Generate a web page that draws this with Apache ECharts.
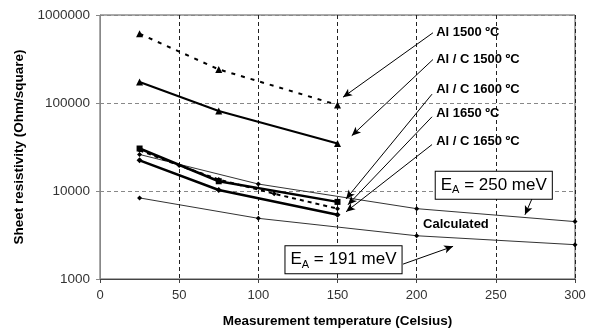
<!DOCTYPE html>
<html>
<head>
<meta charset="utf-8">
<script src="https://cdn.jsdelivr.net/npm/echarts@6/dist/echarts.min.js"></script>
<style>
  html, body { margin: 0; padding: 0; background: #fff; }
  #chart { width: 598px; height: 333px; }
</style>
</head>
<body>
<div id="chart"></div>
<script>
// measured data, [temperature C, ohm/sq]
const al1500 = [[25, 612000], [75, 241000], [150, 95000]];
const alc1500 = [[25, 173000], [75, 81000], [150, 34600]];
const alc1600 = [[25, 30400], [75, 12900], [150, 7520]];
const al1650 = [[25, 29000], [50, 19500], [75, 13500], [110, 9300], [150, 6300]];
const alc1650 = [[25, 22300], [75, 10260], [150, 5370]];
// calculated curves
const calc250 = [[25, 26000], [100, 12000], [200, 6300], [300, 4490]];
const calc191 = [[25, 8340], [100, 4890], [200, 3100], [300, 2455]];

const xTicks = [0, 50, 100, 150, 200, 250, 300];
const yTicks = [1000, 10000, 100000, 1000000];

// label text, anchor point (data space)
const seriesLabels = [
  ['Al 1500 ºC', 212, 628000],
  ['Al / C 1500 ºC', 212, 312000],
  ['Al / C 1600 ºC', 212, 143600],
  ['Al 1650 ºC', 212, 75200],
  ['Al / C 1650 ºC', 212, 36500]
];
// leader arrows: [from, to]
const arrows = [
  [[210.3, 628000], [153.5, 116600]],
  [[210.3, 312000], [159, 42500]],
  [[209.7, 126000], [155.4, 8130]],
  [[209.7, 69700], [156.6, 6970]],
  [[209.7, 33700], [155.4, 5810]],
  [[272.8, 8130], [268.4, 5370]],
  [[191.4, 1476], [223, 2350]]
];

const chart = echarts.init(document.getElementById('chart'));
const font = '"Liberation Sans", Arial, sans-serif';

function lineSeries(name, data, opts) {
  return Object.assign({
    name: name,
    type: 'line',
    data: data,
    symbol: 'triangle',
    symbolSize: 7,
    itemStyle: { color: '#000' },
    lineStyle: { color: '#000', width: 2 },
    animation: false,
    z: 3
  }, opts);
}

const boxLabel = (txt) => ({
  show: true,
  position: 'inside',
  formatter: '{a|E}{s|A}{a| = ' + txt + '}',
  backgroundColor: '#fff',
  borderColor: '#000',
  borderWidth: 1,
  padding: [3, 5, 3, 5],
  rich: {
    a: { fontSize: 17, fontFamily: font, color: '#000' },
    s: { fontSize: 11, fontFamily: font, color: '#000', padding: [10, 0, 0, 0] }
  }
});

const option = {
  backgroundColor: '#fff',
  textStyle: { fontFamily: font },
  grid: { left: 100, right: 23, top: 15, bottom: 51, show: true, borderColor: '#555', borderWidth: 1 },
  xAxis: {
    type: 'value', min: 0, max: 300, interval: 50,
    name: 'Measurement temperature (Celsius)',
    nameLocation: 'middle', nameGap: 35,
    nameTextStyle: { fontFamily: font, fontSize: 13.5, fontWeight: 'bold', color: '#000' },
    axisLine: { show: true, lineStyle: { color: '#444' } },
    axisTick: { show: true, length: 4, lineStyle: { color: '#444' } },
    axisLabel: { fontFamily: font, fontSize: 13, color: '#333', margin: 10,
      formatter: (v) => xTicks.includes(v) ? String(v) : '' },
    splitLine: { show: true, lineStyle: { color: '#222', type: [4, 3], width: 1 } }
  },
  yAxis: {
    type: 'log', min: 1000, max: 1000000, logBase: 10,
    name: 'Sheet resistivity (Ohm/square)',
    nameLocation: 'middle', nameGap: 74,
    nameTextStyle: { fontFamily: font, fontSize: 13.5, fontWeight: 'bold', color: '#000' },
    axisLine: { show: true, lineStyle: { color: '#888' } },
    axisTick: { show: true, length: 4, lineStyle: { color: '#888' } },
    axisLabel: { fontFamily: font, fontSize: 13.5, color: '#333', margin: 10,
      formatter: (v) => yTicks.includes(v) ? String(v) : '' },
    splitLine: { show: true, lineStyle: { color: '#888', type: [4, 3], width: 1 } }
  },
  series: [
    lineSeries('Al 1500', al1500, { lineStyle: { color: '#000', width: 2, type: [4, 6] } }),
    lineSeries('Al/C 1500', alc1500),
    lineSeries('Calc 250', calc250, { symbol: 'diamond', symbolSize: 5, lineStyle: { color: '#333', width: 1 }, z: 2 }),
    lineSeries('Calc 191', calc191, {
      symbol: 'diamond', symbolSize: 5, lineStyle: { color: '#333', width: 1 }, z: 2,
      markLine: {
        silent: true, animation: false,
        symbol: ['none', 'arrow'], symbolSize: [6, 9],
        label: { show: false },
        lineStyle: { color: '#000', width: 1, type: 'solid' },
        data: arrows.map(a => [{ coord: a[0] }, { coord: a[1] }])
      },
      markPoint: {
        silent: true, animation: false,
        symbol: 'circle', symbolSize: 1,
        itemStyle: { color: 'rgba(0,0,0,0)' },
        data: seriesLabels.map(l => ({
          coord: [l[1], l[2]], value: l[0],
          label: { show: true, position: 'right', distance: 0, formatter: l[0],
            fontFamily: font, fontSize: 13, fontWeight: 'bold', color: '#000' }
        })).concat([
          { coord: [224.8, 4150], value: 'Calculated',
            label: { show: true, position: 'inside', formatter: 'Calculated',
              fontFamily: font, fontSize: 13, fontWeight: 'bold', color: '#000' } },
          { coord: [248.7, 11660], value: 'EA250', label: boxLabel('250 meV') },
          { coord: [153.8, 1655], value: 'EA191', label: boxLabel('191 meV') }
        ])
      }
    }),
    lineSeries('Al/C 1600', alc1600, { symbol: 'rect', symbolSize: 6, lineStyle: { color: '#000', width: 2.5 } }),
    lineSeries('Al 1650', al1650, { symbol: 'diamond', symbolSize: 5, lineStyle: { color: '#000', width: 2, type: [4, 4] } }),
    lineSeries('Al/C 1650', alc1650, { symbol: 'diamond', symbolSize: 6, lineStyle: { color: '#000', width: 2.5 } })
  ]
};

chart.setOption(option);
</script>
</body>
</html>
